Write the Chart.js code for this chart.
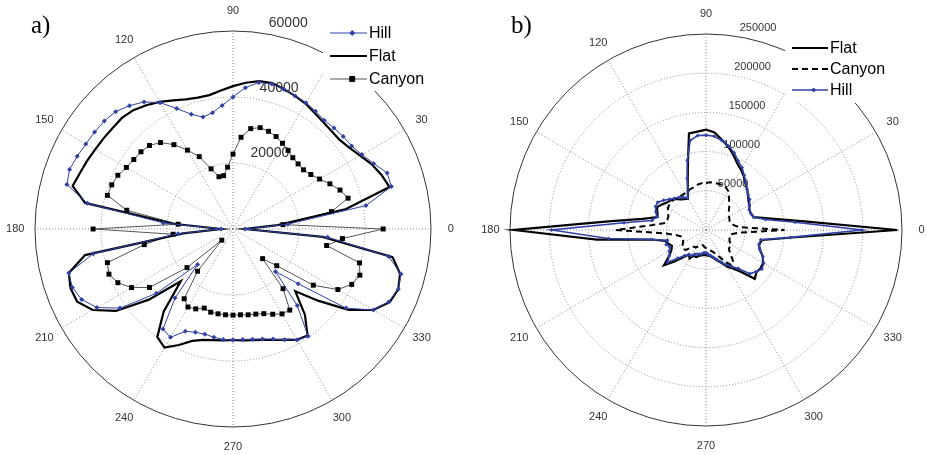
<!DOCTYPE html>
<html>
<head>
<meta charset="utf-8">
<script src="https://cdn.jsdelivr.net/npm/chart.js@4.4.1/dist/chart.umd.min.js"></script>
<style>
  body { margin: 0; background: #fff; }
  #wrap { position: relative; width: 927px; height: 455px; overflow: hidden; }
  canvas { position: absolute; top: 0; }
  #chartA { left: 0; }
  #chartB { left: 463px; }
</style>
</head>
<body>
<div id="wrap">
  <canvas id="chartA" width="463" height="455"></canvas>
  <canvas id="chartB" width="464" height="455"></canvas>
</div>
<script>
// direction in degrees, counter-clockwise from east (0 = right, 90 = up)
const angles = [0, 5, 10, 15, 20, 25, 30, 35, 40, 45, 50, 55, 60, 65, 70, 75, 80, 85,
  90, 95, 100, 105, 110, 115, 120, 125, 130, 135, 140, 145, 150, 155, 160, 165, 170, 175,
  180, 185, 190, 195, 200, 205, 210, 215, 220, 225, 230, 235, 240, 245, 250, 255, 260, 265,
  270, 275, 280, 285, 290, 295, 300, 305, 310, 315, 320, 325, 330, 335, 340, 345, 350, 355];

// panel a) values, one per angle above
const hillA = [3600, 16700, 40900, 49700, 49700, 47000, 45100, 43900, 43600, 43300, 43000, 43600,
  44200, 44500, 45100, 45500, 45100, 43000, 40000, 37600, 35800, 35100, 37000, 40300,
  44200, 47000, 48800, 50300, 50900, 51200, 51500, 52100, 52700, 52100, 44800, 21200,
  3600, 16700, 43000, 51500, 51800, 50600, 47600, 41800, 30300, 15200, 27300, 37000,
  37900, 34200, 33300, 33000, 33300, 33600, 33600, 33600, 33900, 34500, 35500, 37000,
  38800, 39700, 30300, 18200, 25800, 41800, 49100, 52100, 53300, 52700, 47900, 28800];
const flatA = [3600, 13600, 34800, 49100, 47900, 46400, 44500, 43000, 42100, 42100, 42400, 43000,
  43900, 44500, 45100, 45800, 45500, 44500, 43300, 42100, 41200, 41200, 41800, 43000,
  44500, 45800, 47000, 47600, 47600, 47900, 48200, 48800, 49400, 50300, 45500, 18200,
  3600, 15200, 45500, 51500, 52400, 52100, 49100, 43300, 33300, 22400, 32700, 40000,
  41500, 38800, 36100, 34800, 34200, 33900, 33600, 33900, 34200, 34800, 35800, 37000,
  38800, 39400, 33900, 26700, 33900, 42700, 49100, 52400, 53300, 52400, 49100, 27300];
const canyonA = [45500, 15200, 30300, 36100, 34500, 32400, 30300, 28800, 27900, 27900, 28200, 29100,
  30000, 30900, 31500, 31800, 30900, 27900, 22700, 18800, 16400, 16400, 19400, 24200,
  27600, 31200, 34200, 35800, 36400, 36700, 37300, 38500, 39100, 39400, 32700, 16700,
  42400, 18200, 27300, 39400, 40000, 38500, 35500, 30900, 18200, 4800, 16700, 25800,
  27300, 26700, 25500, 26100, 26100, 26100, 26100, 26100, 26400, 26700, 27300, 28500,
  29700, 30000, 23600, 12700, 17300, 29700, 36700, 39700, 40900, 39700, 28800, 33300];
const ticksA = [20000, 40000, 60000];

// panel b) values
const flatB = [244000, 126000, 84000, 63000, 61000, 61000, 64000, 66000, 70000, 74000, 78000, 84000,
  89000, 94000, 102000, 110000, 117000, 125000, 128000, 126000, 125000, 89000, 68000, 55000,
  46000, 48000, 51000, 56000, 59000, 61000, 65000, 69000, 66000, 64000, 82000, 125000,
  245000, 140000, 70000, 54000, 51000, 48000, 51000, 57000, 70000, 57000, 46000, 38000,
  42000, 36000, 37000, 34000, 33000, 32000, 32000, 33000, 34000, 37000, 41000, 46000,
  54000, 60000, 70000, 88000, 84000, 85000, 84000, 80000, 73000, 70000, 73000, 110000];
const canyonB = [100000, 42000, 36000, 33000, 32000, 33000, 34000, 36000, 38000, 42000, 46000, 51000,
  57000, 60000, 61000, 61000, 61000, 61000, 60000, 60000, 59000, 57000, 56000, 55000,
  54000, 54000, 55000, 56000, 57000, 57000, 56000, 54000, 51000, 51000, 52000, 70000,
  115000, 51000, 38000, 32000, 31000, 32000, 34000, 37000, 38000, 36000, 28000, 26000,
  26000, 23000, 22000, 20000, 20000, 22000, 23000, 24000, 26000, 28000, 31000, 36000,
  45000, 54000, 55000, 45000, 38000, 37000, 37000, 33000, 32000, 31000, 32000, 41000];
const hillB = [199000, 114000, 77000, 63000, 61000, 61000, 64000, 68000, 70000, 74000, 79000, 85000,
  92000, 97000, 105000, 111000, 116000, 120000, 121000, 121000, 116000, 92000, 70000, 54000,
  47000, 51000, 54000, 57000, 61000, 66000, 71000, 71000, 68000, 65000, 70000, 105000,
  197000, 125000, 70000, 51000, 54000, 51000, 54000, 57000, 64000, 51000, 43000, 38000,
  38000, 34000, 33000, 32000, 31000, 29000, 29000, 31000, 33000, 36000, 40000, 45000,
  51000, 57000, 64000, 79000, 83000, 87000, 85000, 80000, 73000, 70000, 71000, 108000];
const ticksB = [50000, 100000, 150000, 200000, 250000];

const blue = '#3142a6';

// the radar scale runs clockwise from the top, so start at 90 and walk backwards
const northIdx = angles.indexOf(90);
const order = angles.map((a, i) => (northIdx - i + angles.length) % angles.length);
const ccw = arr => order.map(k => arr[k]);
const labels = ccw(angles).map(String);

function polarScale(max, step) {
  return {
    min: 0,
    max: max,
    startAngle: 0,
    ticks: { display: false, stepSize: step },
    pointLabels: { display: false },
    grid: {
      circular: true,
      lineWidth: 1,
      color: c => (c.tick && c.tick.value === max ? '#333' : '#8c8c8c')
    },
    border: { dash: c => (c.tick && c.tick.value === max ? [] : [1, 2]) },
    angleLines: {
      color: '#8c8c8c',
      borderDash: [1, 2],
      lineWidth: c => (Number(c.label) % 30 === 0 ? 1 : 0)
    }
  };
}

// MATLAB-like text: radius labels at 82 deg, angle labels at 1.1 * rmax, panel tag
const polarText = {
  id: 'polarText',
  beforeDatasetsDraw(chart, args, opts) {
    const r = chart.scales.r;
    const ctx = chart.ctx;
    const a82 = 82 * Math.PI / 180;
    ctx.save();
    ctx.fillStyle = '#333';
    ctx.font = opts.tickFont;
    ctx.textAlign = 'left';
    ctx.textBaseline = 'bottom';
    const pad = ctx.measureText('  ').width;
    opts.ticks.forEach(v => {
      const d = r.getDistanceFromCenterForValue(v + opts.step / 20);
      ctx.fillText(String(v), r.xCenter + d * Math.cos(a82) + pad, r.yCenter - d * Math.sin(a82));
    });

    ctx.font = opts.angleFont;
    ctx.textAlign = 'center';
    ctx.textBaseline = 'middle';
    chart.data.labels.forEach((lab, i) => {
      if (Number(lab) % 30 !== 0) return;
      const p = r.getPointPosition(i, 1.1 * r.drawingArea);
      ctx.fillText(lab, p.x, p.y);
    });

    ctx.fillStyle = '#000';
    ctx.font = '25px "Liberation Serif", "Times New Roman", serif';
    ctx.textAlign = 'left';
    ctx.textBaseline = 'alphabetic';
    ctx.fillText(opts.tag, opts.tagX, opts.tagY);
    ctx.restore();
  }
};

const polarLegend = {
  id: 'polarLegend',
  afterDatasetsDraw(chart, args, opts) {
    const ctx = chart.ctx;
    ctx.save();
    ctx.fillStyle = '#fff';
    ctx.fillRect(opts.box[0], opts.box[1], opts.box[2], opts.box[3]);
    ctx.font = '16px "Liberation Sans", Arial, sans-serif';
    ctx.textAlign = 'left';
    ctx.textBaseline = 'middle';
    opts.items.forEach((di, row) => {
      const ds = chart.data.datasets[di];
      const y = opts.y + row * opts.gap;
      ctx.strokeStyle = ds.borderColor;
      ctx.lineWidth = ds.borderWidth;
      ctx.setLineDash(ds.borderDash || []);
      ctx.beginPath();
      ctx.moveTo(opts.x, y);
      ctx.lineTo(opts.x + opts.len, y);
      ctx.stroke();
      ctx.setLineDash([]);
      if (ds.pointRadius > 0) {
        ctx.fillStyle = ds.pointBackgroundColor;
        ctx.strokeStyle = ds.pointBorderColor;
        ctx.lineWidth = 1;
        Chart.helpers.drawPoint(ctx, { pointStyle: ds.pointStyle, radius: ds.pointRadius, rotation: 0, borderWidth: 1 },
          opts.x + opts.len * 0.6, y);
      }
      ctx.fillStyle = '#000';
      ctx.fillText(ds.label, opts.x + opts.len + 2, y + 1);
    });
    ctx.restore();
  }
};

function baseOptions(pad, max, step) {
  return {
    responsive: false,
    animation: false,
    events: [],
    layout: { padding: pad },
    elements: { line: { tension: 0, fill: false } },
    scales: { r: polarScale(max, step) },
    plugins: { legend: { display: false }, tooltip: { enabled: false } }
  };
}

// a)
const optsA = baseOptions({ left: 35, top: 31, right: 32, bottom: 28 }, 60000, 20000);
optsA.plugins.polarText = {
  ticks: ticksA, step: 20000, tickFont: '14px "Liberation Sans", Arial, sans-serif',
  angleFont: '11px "Liberation Sans", Arial, sans-serif', tag: 'a)', tagX: 31, tagY: 33
};
optsA.plugins.polarLegend = { box: [323, 14, 112, 77], x: 330, y: 33, gap: 23, len: 37, items: [0, 1, 2] };

new Chart(document.getElementById('chartA'), {
  type: 'radar',
  data: {
    labels: labels,
    datasets: [
      {
        label: 'Hill', data: ccw(hillA), order: 0,
        borderColor: blue, borderWidth: 1,
        pointStyle: 'rectRot', pointRadius: 2.5, pointBackgroundColor: blue, pointBorderColor: blue, pointBorderWidth: 0
      },
      {
        label: 'Flat', data: ccw(flatA), order: 1,
        borderColor: '#000', borderWidth: 2.2, pointRadius: 0
      },
      {
        label: 'Canyon', data: ccw(canyonA), order: 2,
        borderColor: '#555', borderWidth: 1,
        pointStyle: 'rect', pointRadius: 3.5, pointBackgroundColor: '#000', pointBorderColor: '#000', pointBorderWidth: 0
      }
    ]
  },
  options: optsA,
  plugins: [polarText, polarLegend]
});

// b)
const optsB = baseOptions({ left: 47, top: 34, right: 25, bottom: 29 }, 250000, 50000);
optsB.plugins.polarText = {
  ticks: ticksB, step: 50000, tickFont: '11px "Liberation Sans", Arial, sans-serif',
  angleFont: '11px "Liberation Sans", Arial, sans-serif', tag: 'b)', tagX: 48, tagY: 33
};
optsB.plugins.polarLegend = { box: [322, 30, 110, 73], x: 329, y: 48, gap: 21, len: 36, items: [0, 1, 2] };

new Chart(document.getElementById('chartB'), {
  type: 'radar',
  data: {
    labels: labels,
    datasets: [
      {
        label: 'Flat', data: ccw(flatB), order: 1,
        borderColor: '#000', borderWidth: 2.2, pointRadius: 0
      },
      {
        label: 'Canyon', data: ccw(canyonB), order: 2,
        borderColor: '#000', borderWidth: 2, borderDash: [6, 4], pointRadius: 0
      },
      {
        label: 'Hill', data: ccw(hillB), order: 0,
        borderColor: blue, borderWidth: 1.6,
        pointStyle: 'rectRot', pointRadius: 2, pointBackgroundColor: blue, pointBorderColor: blue, pointBorderWidth: 0
      }
    ]
  },
  options: optsB,
  plugins: [polarText, polarLegend]
});
</script>
</body>
</html>
